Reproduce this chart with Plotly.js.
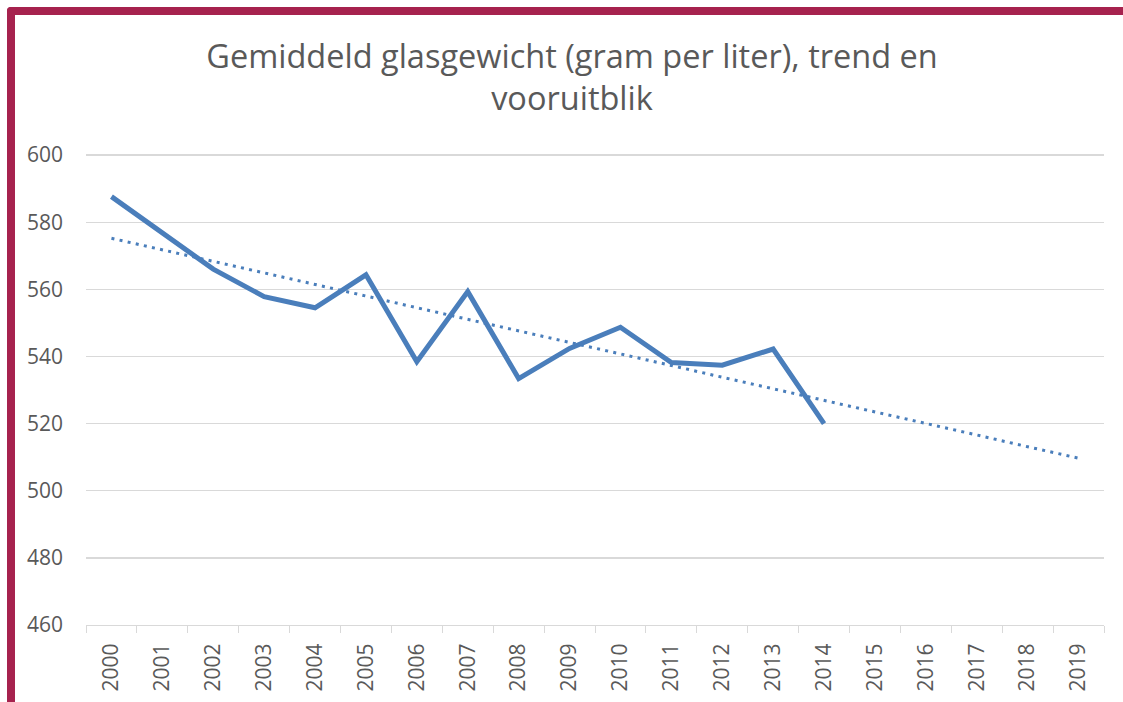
<!DOCTYPE html>
<html>
<head>
<meta charset="utf-8">
<script src="https://cdn.plot.ly/plotly-3.0.1.min.js"></script>
<style>
  html, body { margin: 0; padding: 0; background: #ffffff; }
  #wrap { position: relative; width: 1123px; height: 702px; overflow: hidden; }
  #chart { position: absolute; left: 0; top: 0; width: 1123px; height: 702px; }
  #frame { position: absolute; left: 7px; top: 7px; width: 1140px; height: 720px;
           border-left: 8px solid #a6224e; border-top: 8px solid #a6224e;
           border-top-left-radius: 4px; pointer-events: none; }
</style>
</head>
<body>
<div id="wrap">
  <div id="chart"></div>
  <div id="frame"></div>
</div>
<script>
// Categories (years)
const years = ['2000','2001','2002','2003','2004','2005','2006','2007','2008','2009',
               '2010','2011','2012','2013','2014','2015','2016','2017','2018','2019'];
// Observed average glass weight (gram per liter), 2000-2014
const observedYears = years.slice(0, 15);
const glassWeight = [587.6, 576.8, 566.0, 557.8, 554.5, 564.3, 538.4, 559.3, 533.4, 542.4,
                     548.7, 538.2, 537.4, 542.2, 520.0];
// Trend line and outlook, 2000-2019
const trendValues = [575.2, 571.8, 568.3, 564.9, 561.4, 558.0, 554.5, 551.1, 547.6, 544.2,
                     540.7, 537.3, 533.8, 530.4, 526.9, 523.5, 520.0, 516.6, 513.1, 509.7];
// Y axis ticks
const yTicks = [460, 480, 500, 520, 540, 560, 580, 600];

const lineColor = '#4a7ebb';
const textColor = '#595959';
const gridColor = '#d9d9d9';

const traces = [
  {
    x: observedYears, y: glassWeight, type: 'scatter', mode: 'lines',
    line: { color: lineColor, width: 5, shape: 'linear' },
    hoverinfo: 'x+y', showlegend: false
  },
  {
    x: years, y: trendValues, type: 'scatter', mode: 'lines',
    line: { color: lineColor, width: 3, dash: '3px,5.3px' },
    hoverinfo: 'x+y', showlegend: false
  }
];

const layout = {
  width: 1123, height: 702,
  paper_bgcolor: '#ffffff', plot_bgcolor: '#ffffff',
  margin: { l: 86, r: 19, t: 154, b: 77, pad: 0 },
  font: { family: '"Open Sans", "Liberation Sans", sans-serif', color: textColor },
  title: {
    text: 'Gemiddeld glasgewicht (gram per liter), trend en<br>vooruitblik',
    font: { family: '"Open Sans", sans-serif', size: 32.5, color: textColor },
    x: 572 / 1123, xanchor: 'center', xref: 'container',
    y: 1 - 68 / 702, yanchor: 'top', yref: 'container'
  },
  xaxis: {
    type: 'category',
    categoryorder: 'array', categoryarray: years,
    tickmode: 'array', tickvals: years, ticktext: years,
    tickangle: -90,
    tickfont: { size: 21, color: textColor },
    ticks: 'outside', ticklen: 7, tickcolor: gridColor, tickwidth: 1,
    tickson: 'boundaries', ticklabelstandoff: 9,
    showline: true, linecolor: gridColor, linewidth: 1,
    showgrid: false, zeroline: false,
    range: [-0.5, 19.5], fixedrange: true
  },
  yaxis: {
    range: [460, 600.3],
    tickmode: 'array', tickvals: yTicks, ticktext: yTicks.map(String),
    tickfont: { size: 21, color: textColor },
    ticks: '', ticklabelstandoff: 22,
    showgrid: true, gridcolor: gridColor, gridwidth: 1.3,
    showline: false, zeroline: false, fixedrange: true
  },
  showlegend: false
};

Plotly.newPlot('chart', traces, layout, { displayModeBar: false, staticPlot: true });
</script>
</body>
</html>
